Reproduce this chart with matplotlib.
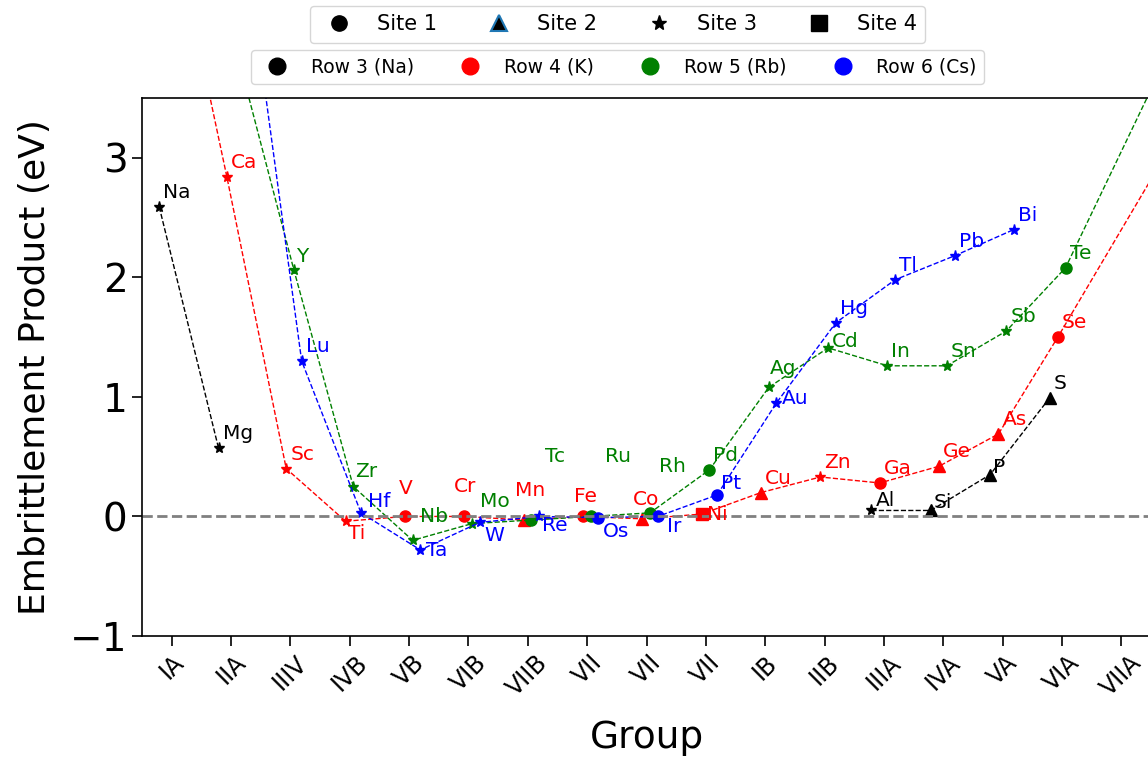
import matplotlib
matplotlib.use("Agg")
import matplotlib.pyplot as plt
from matplotlib.lines import Line2D
import numpy as np

# group labels on the x axis (1..17)
group_labels = ['IA', 'IIA', 'IIIV', 'IVB', 'VB', 'VIB', 'VIIB', 'VII', 'VII', 'VII',
                'IB', 'IIB', 'IIIA', 'IVA', 'VA', 'VIA', 'VIIA']

# Row 3 (Na)
row3_el = ['Na', 'Mg', 'Al', 'Si', 'P', 'S']
row3_grp = [1, 2, 13, 14, 15, 16]
row3_val = [2.59, 0.57, 0.05, 0.05, 0.35, 0.99]
row3_site = [3, 3, 3, 2, 2, 2]

# Row 4 (K)
row4_el = ['K', 'Ca', 'Sc', 'Ti', 'V', 'Cr', 'Mn', 'Fe', 'Co', 'Ni', 'Cu', 'Zn',
           'Ga', 'Ge', 'As', 'Se', 'Br']
row4_grp = [1, 2, 3, 4, 5, 6, 7, 8, 9, 10, 11, 12, 13, 14, 15, 16, 18]
row4_val = [5.18, 2.84, 0.40, -0.04, 0.0, 0.0, -0.03, 0.0, -0.02, 0.02, 0.20, 0.33,
            0.28, 0.42, 0.69, 1.50, 3.18]
row4_site = [3, 3, 3, 3, 1, 1, 2, 1, 2, 4, 2, 3, 1, 2, 2, 1, 1]

# Row 5 (Rb)
row5_el = ['Rb', 'Sr', 'Y', 'Zr', 'Nb', 'Mo', 'Tc', 'Ru', 'Rh', 'Pd', 'Ag', 'Cd',
           'In', 'Sn', 'Sb', 'Te', 'I']
row5_grp = [1, 2, 3, 4, 5, 6, 7, 8, 9, 10, 11, 12, 13, 14, 15, 16, 18]
row5_val = [5.5, 3.96, 2.06, 0.25, -0.20, -0.06, -0.03, 0.0, 0.03, 0.39, 1.08, 1.41,
            1.26, 1.26, 1.55, 2.08, 4.15]
row5_site = [3, 3, 3, 3, 3, 3, 1, 1, 1, 1, 3, 3, 3, 3, 3, 1, 1]

# Row 6 (Cs)
row6_el = ['Cs', 'Ba', 'Lu', 'Hf', 'Ta', 'W', 'Re', 'Os', 'Ir', 'Pt', 'Au', 'Hg',
           'Tl', 'Pb', 'Bi']
row6_grp = [1, 2, 3, 4, 5, 6, 7, 8, 9, 10, 11, 12, 13, 14, 15]
row6_val = [5.8, 4.96, 1.30, 0.03, -0.28, -0.05, 0.0, -0.01, 0.0, 0.18, 0.95, 1.62,
            1.98, 2.18, 2.40]
row6_site = [3, 3, 3, 3, 3, 3, 3, 1, 1, 1, 3, 3, 3, 3, 3]

rows = [
    ('Row 3 (Na)', 'k', -0.21, row3_el, row3_grp, row3_val, row3_site),
    ('Row 4 (K)', 'r', -0.07, row4_el, row4_grp, row4_val, row4_site),
    ('Row 5 (Rb)', 'g', 0.06, row5_el, row5_grp, row5_val, row5_site),
    ('Row 6 (Cs)', 'b', 0.19, row6_el, row6_grp, row6_val, row6_site),
]
site_marker = {1: 'o', 2: '^', 3: '*', 4: 's'}

# label offsets in pixels (default is up-right of the point)
default_off = (4, 9)
label_off = {
    'Ti': (2, -18), 'V': (-6, 22), 'Cr': (-10, 24), 'Mn': (-9, 24), 'Fe': (-9, 14),
    'Co': (-9, 14), 'Ni': (5, -6), 'Al': (4, 4), 'Si': (3, 2), 'P': (3, 2),
    'Nb': (7, 18), 'Mo': (8, 17), 'Tc': (14, 58), 'Ru': (14, 54), 'Rh': (9, 41),
    'Cd': (4, 1), 'Hf': (7, 6), 'Ta': (6, -6), 'W': (5, -19), 'Re': (3, -15),
    'Os': (4, -19), 'Ir': (9, -16), 'Pt': (4, 6), 'Au': (5, -1), 'Y': (2, 8),
    'Ag': (1, 13), 'Zr': (2, 10),
}

fig = plt.figure(figsize=(11.48, 7.61), dpi=100)
ax = fig.add_axes([142 / 1148, 125 / 761, 1009 / 1148, 538 / 761])

for name, col, shift, els, grp, val, site in rows:
    x = np.array(grp, dtype=float) + shift
    y = np.array(val, dtype=float)
    # break the line where groups are skipped (row 3 has no transition metals)
    xs, ys = [x[0]], [y[0]]
    for i in range(1, len(x)):
        if grp[i] - grp[i - 1] > 2:
            xs.append(np.nan)
            ys.append(np.nan)
        xs.append(x[i])
        ys.append(y[i])
    ax.plot(xs, ys, '--', color=col, lw=1)
    for i in range(len(x)):
        ax.plot(x[i], y[i], marker=site_marker[site[i]], color=col,
                markersize=8, linestyle='None')
        off = label_off.get(els[i], default_off)
        ax.annotate(els[i], (x[i], y[i]), xytext=off, textcoords='offset pixels',
                    color=col, fontsize=14.5)

ax.axhline(0, color='gray', linestyle='--', lw=2)

ax.set_xlim(0.5, 17.5)
ax.set_ylim(-1, 3.5)
ax.set_xticks(range(1, 18))
ax.set_xticklabels(group_labels, rotation=45, fontsize=17)
ax.set_yticks([-1, 0, 1, 2, 3])
ax.tick_params(axis='y', labelsize=28)
ax.tick_params(length=7, width=1.2)
for s in ax.spines.values():
    s.set_linewidth(1.2)
ax.set_xlabel('Group', fontsize=27, labelpad=14)
ax.set_ylabel('Embrittlement Product (eV)', fontsize=26, labelpad=13)

site_handles = [
    Line2D([], [], marker='o', color='k', linestyle='None', markersize=11),
    Line2D([], [], marker='^', markerfacecolor='k', markeredgecolor='C0',
           markeredgewidth=1.5, linestyle='None', markersize=11),
    Line2D([], [], marker='*', color='k', linestyle='None', markersize=11),
    Line2D([], [], marker='s', color='k', linestyle='None', markersize=11),
]
fig.legend(site_handles, ['Site 1', 'Site 2', 'Site 3', 'Site 4'], ncol=4,
           loc='upper center', bbox_to_anchor=(617.5 / 1148, 1 - 6 / 761),
           borderaxespad=0, fontsize=15)
row_handles = [Line2D([], [], marker='o', color=r[1], linestyle='None', markersize=12)
               for r in rows]
fig.legend(row_handles, [r[0] for r in rows], ncol=4,
           loc='upper center', bbox_to_anchor=(617.5 / 1148, 1 - 50 / 761),
           borderaxespad=0, fontsize=13.5)

fig.savefig('out.png', dpi=100)
